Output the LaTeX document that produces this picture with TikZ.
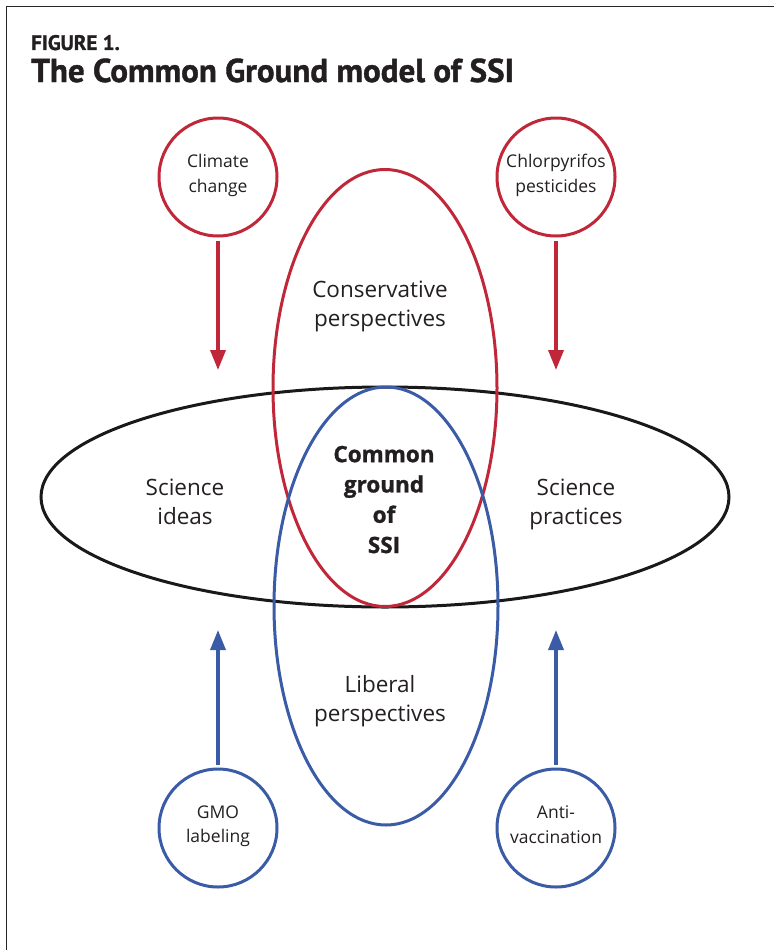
\documentclass[tikz,border=0pt]{standalone}
\usepackage{fontspec}
\setmainfont{Open Sans}
\newfontfamily\titlefont{PT Sans}[BoldFeatures={FakeBold=1.2}]
\newfontfamily\heavyfont{Open Sans}[BoldFeatures={FakeBold=1.2}]
\usetikzlibrary{shapes.geometric,arrows.meta}
\definecolor{cgred}{HTML}{C0283A}
\definecolor{cgblue}{HTML}{3A5BA5}
\definecolor{cgtext}{HTML}{231F20}
\tikzset{
  bigell/.style={ellipse, line width=3pt, inner sep=0pt},
  struts/.style={execute at begin node=\strut, execute at end node=\strut},
  issue/.style={circle, line width=3pt, minimum size=118pt, inner sep=0pt, align=center,
    font=\fontsize{17.5}{24.5}\selectfont, text=cgtext, struts},
  lbl/.style={align=center, font=\fontsize{22.5}{29.5}\selectfont, text=cgtext, struts},
  infl/.style={line width=3.5pt, -{Triangle[length=20pt,width=15pt]}, shorten <=3pt},
}
\begin{document}
\begin{tikzpicture}[x=1pt,y=-1pt]
\useasboundingbox (0,0) rectangle (774,950);
\draw[line width=1.5pt, black!85] (6.5,950) -- (6.5,6.5) -- (774,6.5);
\node[anchor=base west, inner sep=0pt, font=\titlefont\bfseries\fontsize{21}{21}\selectfont, text=cgtext] (fig) at (31,50) {FIGURE 1.};
\node[anchor=base west, inner sep=0pt, font=\titlefont\bfseries\fontsize{33}{33}\selectfont, text=cgtext] (title) at (31,82) {The Common Ground model of SSI};
% ellipses
\node[bigell, draw=black!90, minimum width=688pt, minimum height=220pt] (sci) at (385,497) {};
\node[bigell, draw=cgred, minimum width=224pt, minimum height=437pt] (cons) at (385,388) {};
\node[bigell, draw=cgblue, minimum width=224pt, minimum height=438pt] (lib) at (386,606) {};
% labels
\node[lbl] (ideas) at (185,506) {Science\\ideas};
\node[lbl] (pract) at (576,506) {Science\\practices};
\node[lbl] (constxt) at (380,308) {Conservative\\perspectives};
\node[lbl] (libtxt) at (380,703) {Liberal\\perspectives};
\node[lbl, font=\heavyfont\bfseries\fontsize{22.5}{30.3}\selectfont] (common) at (384,504) {Common\\ground\\of\\SSI};
% issue circles
\node[issue, draw=cgred] (climate) at (218,177) {Climate\\change};
\node[issue, draw=cgred] (chlor) at (556,177) {Chlorpyrifos\\pesticides};
\node[issue, draw=cgblue] (gmo) at (218,828) {GMO\\labeling};
\node[issue, draw=cgblue] (anti) at (556,828) {Anti-\\vaccination};
% arrow ends
\coordinate (climateE) at (218,370);
\coordinate (chlorE) at (556,370);
\coordinate (gmoE) at (218,630);
\coordinate (antiE) at (556,630);
\draw[infl, cgred] (climate) -- (climateE);
\draw[infl, cgred] (chlor) -- (chlorE);
\draw[infl, cgblue] (gmo) -- (gmoE);
\draw[infl, cgblue] (anti) -- (antiE);
\end{tikzpicture}
\end{document}
